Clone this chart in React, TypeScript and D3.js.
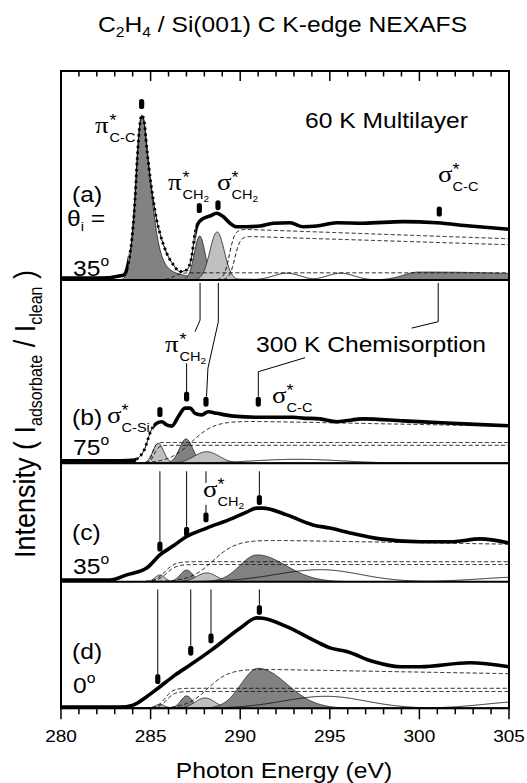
import React from "react";
import * as d3 from "d3";

const SANS = "'Liberation Sans', Arial, sans-serif";
const SERIF = "'Liberation Serif', 'Times New Roman', serif";
const SX = 1.12; // the figure's lettering is a little wide

// ---- values ----
const energyDomain: [number, number] = [280, 305];
const tickLabels = [280, 285, 290, 295, 300, 305];
const minorTicks = d3.range(280, 306, 1);

// thick data/fit curves, [eV, intensity]
const specA: [number, number][] = [
  [280, 0.05], [282.2, 0.05], [283.48, 0.12], [283.76, 0.42], [283.95, 1.0], [284.13, 2.0],
  [284.26, 3.08], [284.41, 3.92], [284.5, 4.12], [284.63, 4.0], [284.78, 3.33], [284.97, 2.58],
  [285.15, 2.0], [285.34, 1.5], [285.52, 1.17], [285.9, 0.67], [286.27, 0.38], [286.64, 0.21],
  [287.01, 0.25], [287.29, 0.58], [287.48, 1.17], [287.61, 1.38], [287.94, 1.54], [288.31, 1.6],
  [288.69, 1.67], [289.06, 1.58], [289.43, 1.42], [289.8, 1.33], [290.36, 1.33], [291.1, 1.35],
  [291.85, 1.42], [292.78, 1.43], [293.52, 1.33], [294.27, 1.35], [295.39, 1.43], [296.87, 1.42],
  [299.1, 1.46], [300.97, 1.43], [302.82, 1.35], [305, 1.27],
];
const specB: [number, number][] = [
  [280, 0.06], [283.3, 0.06], [284.13, 0.08], [284.3, 0.13], [284.69, 0.38], [284.97, 0.76],
  [285.13, 0.91], [285.34, 1.0], [285.62, 1.04], [285.9, 0.96], [286.18, 0.93], [286.55, 1.17],
  [286.92, 1.38], [287.2, 1.38], [287.48, 1.25], [287.85, 1.21], [288.22, 1.29], [288.69, 1.25],
  [289.62, 1.18], [291.1, 1.15], [292.96, 1.15], [293.52, 1.13], [294.45, 1.11], [295.39, 1.04],
  [296.87, 1.11], [299.1, 1.06], [300.97, 1.02], [302.82, 0.98], [305, 0.94],
];
const specC: [number, number][] = [
  [280, 0.04], [282.73, 0.04], [283.67, 0.17], [284.78, 0.34], [285.52, 0.67], [286.25, 0.89],
  [287.01, 1.13], [288.13, 1.34], [289.6, 1.59], [290.36, 1.74], [290.92, 1.84], [291.27, 1.84],
  [292.6, 1.67], [294.06, 1.42], [295.01, 1.34], [296.13, 1.22], [297.8, 1.07], [300.03, 1.0],
  [301.88, 1.0], [303.38, 1.07], [305, 0.97],
];
const specD: [number, number][] = [
  [280, 0.03], [283.29, 0.03], [284.02, 0.08], [284.78, 0.29], [285.52, 0.54], [286.36, 0.83],
  [287.2, 1.08], [288.41, 1.46], [289.99, 2.0], [290.92, 2.26], [291.27, 2.25], [292.6, 2.04],
  [294.06, 1.71], [295.01, 1.51], [295.94, 1.42], [297.41, 1.17], [298.92, 1.04], [300.03, 1.04],
  [302.82, 1.14], [305, 1.04],
];

// fitted peaks: position, height, low/high side width, lorentz tail on high side
type Peak = { e: number; h: number; wl: number; wr: number; tail?: number; tone?: string };
const peaksA: Peak[] = [
  { e: 300.0, h: 0.2, wl: 0.9, wr: 8, tone: "dark" },
  { e: 284.5, h: 4.1, wl: 0.33, wr: 0.5, tail: 0.5, tone: "dark" },
  { e: 287.74, h: 1.1, wl: 0.3, wr: 0.3, tone: "dark" },
  { e: 288.71, h: 1.2, wl: 0.4, wr: 0.4, tone: "light" },
];
const peaksB: Peak[] = [
  { e: 285.43, h: 0.5, wl: 0.3, wr: 0.3, tone: "light" },
  { e: 286.98, h: 0.61, wl: 0.37, wr: 0.37, tone: "dark" },
  { e: 288.13, h: 0.29, wl: 0.7, wr: 0.7, tone: "light" },
];
const peaksC: Peak[] = [
  { e: 285.52, h: 0.17, wl: 0.27, wr: 0.27, tone: "light" },
  { e: 287.01, h: 0.29, wl: 0.35, wr: 0.35, tone: "dark" },
  { e: 288.13, h: 0.22, wl: 0.55, wr: 0.55, tone: "light" },
  { e: 290.94, h: 0.67, wl: 0.95, wr: 1.6, tone: "dark" },
];
const peaksD: Peak[] = [
  { e: 285.52, h: 0.1, wl: 0.27, wr: 0.27, tone: "light" },
  { e: 287.01, h: 0.31, wl: 0.33, wr: 0.33, tone: "dark" },
  { e: 288.04, h: 0.26, wl: 0.55, wr: 0.55, tone: "light" },
  { e: 291.0, h: 1.0, wl: 0.95, wr: 1.6, tone: "dark" },
];

// unfilled broad components
const bumpsA: Peak[] = [
  { e: 292.6, h: 0.17, wl: 0.75, wr: 0.75 },
  { e: 295.6, h: 0.17, wl: 0.75, wr: 0.75 },
];
const bumpsB: Peak[] = [{ e: 293.2, h: 0.1, wl: 2.5, wr: 2.5 }];
const bumpsC: Peak[] = [
  { e: 294.5, h: 0.3, wl: 2.5, wr: 2.2 },
  { e: 306, h: 0.12, wl: 2.5, wr: 2.5 },
];
const bumpsD: Peak[] = [
  { e: 294.8, h: 0.3, wl: 2.4, wr: 2.2 },
  { e: 306, h: 0.17, wl: 2.3, wr: 2.3 },
];

// edge steps (dashed): position, height, width, decay per eV
type Step = { e: number; h: number; w: number; d: number };
const stepsA: Step[] = [
  { e: 286.3, h: 0.18, w: 0.4, d: 0 },
  { e: 289.4, h: 1.28, w: 0.3, d: 0.0125 },
  { e: 289.7, h: 1.1, w: 0.3, d: 0.013 },
];
const stepsB: Step[] = [
  { e: 285.1, h: 0.52, w: 0.2, d: 0 },
  { e: 285.2, h: 0.45, w: 0.25, d: 0 },
  { e: 287.3, h: 1.08, w: 1.3, d: 0.008 },
];
const stepsC: Step[] = [
  { e: 285.8, h: 0.5, w: 0.55, d: 0 },
  { e: 285.9, h: 0.43, w: 0.55, d: 0 },
  { e: 288.5, h: 1.06, w: 1.3, d: 0.007 },
];
const stepsD: Step[] = [
  { e: 285.8, h: 0.5, w: 0.45, d: 0 },
  { e: 285.9, h: 0.42, w: 0.45, d: 0 },
  { e: 288.2, h: 1.0, w: 1.2, d: 0.008 },
];

// resonance markers [eV, intensity]
const marksA: [number, number][] = [[284.5, 4.4], [287.72, 1.8], [288.76, 1.87], [301.11, 1.71]];
const marksB: [number, number][] = [[285.52, 1.28], [287.01, 1.67], [288.09, 1.54], [291.01, 1.54]];
const marksC: [number, number][] = [[285.52, 0.88], [287.01, 1.25], [288.09, 1.61], [291.07, 2.04]];
const marksD: [number, number][] = [[285.4, 0.73], [287.24, 1.44], [288.37, 1.75], [291.07, 2.46]];

// leader lines [eV, intensity]
const linksB: [number, number][][] = [
  [[287.76, 4.51], [287.76, 3.58], [287.48, 3.29]],
  [[287.01, 2.5], [287.01, 1.79]],
  [[288.78, 4.51], [288.78, 3.54], [288.2, 2.38], [288.12, 1.67]],
  [[301.05, 4.51], [301.05, 3.54], [299.57, 3.38]],
  [[293.62, 2.64], [291.01, 2.29], [291.01, 1.67]],
];
const linksC: [number, number][][] = [
  [[285.52, 2.76], [285.52, 1.0]],
  [[287.01, 2.76], [287.01, 1.38]],
  [[288.09, 2.76], [288.09, 2.47]],
  [[288.09, 1.92], [288.09, 1.74]],
  [[291.07, 2.76], [291.07, 2.17]],
];
const linksD: [number, number][][] = [
  [[285.4, 2.97], [285.4, 0.86]],
  [[287.24, 2.97], [287.24, 1.57]],
  [[288.37, 2.97], [288.37, 1.88]],
  [[291.07, 2.97], [291.07, 2.59]],
];

const panels = [
  { key: "a", top: 71, bottom: 280, spec: specA, peaks: peaksA, bumps: bumpsA, steps: stepsA, marks: marksA, links: [], dotted: [283.75, 287.5] },
  { key: "b", top: 280, bottom: 463.3, spec: specB, peaks: peaksB, bumps: bumpsB, steps: stepsB, marks: marksB, links: linksB, dotted: [284.2, 285.15] },
  { key: "c", top: 463.3, bottom: 581.7, spec: specC, peaks: peaksC, bumps: bumpsC, steps: stepsC, marks: marksC, links: linksC, dotted: null },
  { key: "d", top: 581.7, bottom: 708.3, spec: specD, peaks: peaksD, bumps: bumpsD, steps: stepsD, marks: marksD, links: linksD, dotted: null },
];

const PX_PER_UNIT = 40;
const fills: Record<string, string> = { dark: "#828282", light: "#c0c0c0" };

function peakAt(p: Peak, e: number) {
  const dx = e - p.e;
  const w = dx < 0 ? p.wl : p.wr;
  const g = Math.exp(-0.5 * (dx / w) ** 2);
  if (dx > 0 && p.tail) {
    const l = 1 / (1 + (dx / (1.1774 * w)) ** 2);
    return p.h * ((1 - p.tail) * g + p.tail * l);
  }
  return p.h * g;
}
function stepAt(s: Step, e: number) {
  const v = s.h * 0.5 * (1 + Math.tanh((e - s.e) / s.w));
  return e > s.e ? v * (1 - s.d * (e - s.e)) : v;
}

const Lbl = ({ x, y, size = 22, anchor = "start", children }: any) => (
  <text transform={`translate(${x},${y}) scale(${SX},1)`} fontSize={size} textAnchor={anchor} fontFamily={SANS}>
    {children}
  </text>
);

// greek orbital label: letter, star above-right, subscript below-right
const Orb = ({ x, y, sym, sub, two = false }: any) => (
  <g transform={`translate(${x},${y}) scale(${SX},1)`} fontFamily={SANS}>
    <text fontFamily={SERIF} fontSize={24}>{sym}</text>
    <text x={13} y={-7} fontSize={16}>*</text>
    <text x={13} y={9} fontSize={13}>
      {sub}
      {two && <tspan fontSize={9} dy={3}>2</tspan>}
    </text>
  </g>
);

const Deg = ({ x, y, v }: any) => (
  <Lbl x={x} y={y}>
    {v}
    <tspan fontSize={14} dy={-10}>o</tspan>
  </Lbl>
);

export default function App() {
  const x = d3.scaleLinear().domain(energyDomain).range([61, 509]);
  const grid = d3.range(280, 305.0001, 0.04);
  const bottomY = 708.3;

  return (
    <svg width={527} height={783} style={{ position: "absolute", left: 0, top: 0, background: "#fff" }}>
      <defs>
        {panels.map((p) => (
          <React.Fragment key={p.key}>
            <clipPath id={`clip-${p.key}`}>
              <rect x={61} y={p.top} width={448} height={p.bottom - p.top} />
            </clipPath>
            {p.dotted && (
              <>
                <clipPath id={`solid-${p.key}`}>
                  <rect x={55} y={p.top} width={x(p.dotted[0]) - 55} height={p.bottom - p.top} />
                  <rect x={x(p.dotted[1])} y={p.top} width={515 - x(p.dotted[1])} height={p.bottom - p.top} />
                </clipPath>
                <clipPath id={`dot-${p.key}`}>
                  <rect x={x(p.dotted[0])} y={p.top} width={x(p.dotted[1]) - x(p.dotted[0])} height={p.bottom - p.top} />
                </clipPath>
              </>
            )}
          </React.Fragment>
        ))}
      </defs>

      {panels.map((p) => {
        const y = d3.scaleLinear().domain([0, (p.bottom - p.top) / PX_PER_UNIT]).range([p.bottom, p.top]);
        const area = (pk: Peak) =>
          d3.area<number>().x((e) => x(e)).y0(y(0)).y1((e) => y(peakAt(pk, e)))(grid);
        const bump = (pk: Peak) => d3.line<number>().x((e) => x(e)).y((e) => y(peakAt(pk, e)))(grid);
        const step = (s: Step) => d3.line<number>().x((e) => x(e)).y((e) => y(stepAt(s, e)))(grid);
        const spec = d3
          .line<[number, number]>()
          .curve(d3.curveMonotoneX)
          .x((d) => x(d[0]))
          .y((d) => y(d[1]))(p.spec);
        const link = d3.line<[number, number]>().x((d) => x(d[0])).y((d) => y(d[1]));
        return (
          <g key={p.key}>
            <g clipPath={`url(#clip-${p.key})`}>
              {p.peaks.map((pk, i) => (
                <path key={i} d={area(pk) || ""} fill={fills[pk.tone || "dark"]} stroke="#222" strokeWidth={0.8} />
              ))}
              {p.bumps.map((pk, i) => (
                <path key={i} d={bump(pk) || ""} fill="none" stroke="#111" strokeWidth={0.9} />
              ))}
              {p.steps.map((s, i) => (
                <path key={i} d={step(s) || ""} fill="none" stroke="#111" strokeWidth={1} strokeDasharray="4 2.5" />
              ))}
            </g>
            {p.dotted ? (
              <>
                <path d={spec || ""} fill="none" stroke="#000" strokeWidth={3.6} strokeLinejoin="round" clipPath={`url(#solid-${p.key})`} />
                <path d={spec || ""} fill="none" stroke="#000" strokeWidth={1} clipPath={`url(#dot-${p.key})`} />
                <path d={spec || ""} fill="none" stroke="#000" strokeWidth={2.8} strokeDasharray="2.4 3.4" clipPath={`url(#dot-${p.key})`} />
              </>
            ) : (
              <path d={spec || ""} fill="none" stroke="#000" strokeWidth={3.6} strokeLinejoin="round" />
            )}
            {p.links.map((l, i) => (
              <path key={i} d={link(l) || ""} fill="none" stroke="#000" strokeWidth={1} />
            ))}
            {p.marks.map((m, i) => (
              <rect key={i} x={x(m[0]) - 2.6} y={y(m[1]) - 5} width={5.2} height={10} rx={2.6} fill="#000" />
            ))}
          </g>
        );
      })}

      {/* frame and panel dividers */}
      <rect x={61} y={71} width={448} height={bottomY - 71} fill="none" stroke="#000" strokeWidth={2} />
      {panels.slice(1).map((p) => (
        <line key={p.key} x1={61} x2={509} y1={p.top} y2={p.top} stroke="#000" strokeWidth={2} />
      ))}

      {/* ticks */}
      {minorTicks.map((t) => {
        const major = t % 5 === 0;
        return (
          <g key={t} stroke="#000" strokeWidth={1.5}>
            <line x1={x(t)} x2={x(t)} y1={71} y2={71 + (major ? 10 : 5.5)} />
            <line x1={x(t)} x2={x(t)} y1={bottomY} y2={bottomY + (major ? 11 : 6)} />
          </g>
        );
      })}
      {tickLabels.map((t) => (
        <Lbl key={t} x={x(t)} y={742} size={17} anchor="middle">{t}</Lbl>
      ))}

      {/* titles */}
      <Lbl x={282.5} y={32} size={22} anchor="middle">
        C<tspan fontSize={14} dy={5}>2</tspan>
        <tspan dy={-5}>H</tspan>
        <tspan fontSize={14} dy={5}>4</tspan>
        <tspan dy={-5}> / Si(001) C K-edge NEXAFS</tspan>
      </Lbl>
      <Lbl x={284} y={778} size={22} anchor="middle">Photon Energy (eV)</Lbl>
      <text transform="translate(35,414) rotate(-90) scale(1,1.12)" fontSize={27} textAnchor="middle" fontFamily={SANS}>
        Intensity ( I<tspan fontSize={16} dy={6}>adsorbate</tspan>
        <tspan dy={-6}> / I</tspan>
        <tspan fontSize={16} dy={6}>clean</tspan>
        <tspan dy={-6}> )</tspan>
      </text>

      {/* panel a */}
      <Lbl x={305} y={128}>60 K Multilayer</Lbl>
      <Lbl x={72} y={202}>(a)</Lbl>
      <Lbl x={67} y={226}>
        θ<tspan fontSize={13} dy={5}>i</tspan>
        <tspan dy={-5}> =</tspan>
      </Lbl>
      <Deg x={73} y={276} v="35" />
      <Orb x={95} y={133} sym="π" sub="C-C" />
      <Orb x={168} y={190} sym="π" sub="CH" two />
      <Orb x={217} y={190} sym="σ" sub="CH" two />
      <Orb x={438} y={182} sym="σ" sub="C-C" />

      {/* panel b */}
      <Lbl x={256} y={352}>300 K Chemisorption</Lbl>
      <Lbl x={72} y={425}>(b)</Lbl>
      <Deg x={73} y={455} v="75" />
      <Orb x={165} y={352} sym="π" sub="CH" two />
      <Orb x={107} y={423} sym="σ" sub="C-Si" />
      <Orb x={272} y={403} sym="σ" sub="C-C" />

      {/* panel c */}
      <Lbl x={72} y={540}>(c)</Lbl>
      <Deg x={73} y={574} v="35" />
      <Orb x={203} y={497} sym="σ" sub="CH" two />

      {/* panel d */}
      <Lbl x={72} y={659}>(d)</Lbl>
      <Deg x={73} y={693} v="0" />
    </svg>
  );
}
